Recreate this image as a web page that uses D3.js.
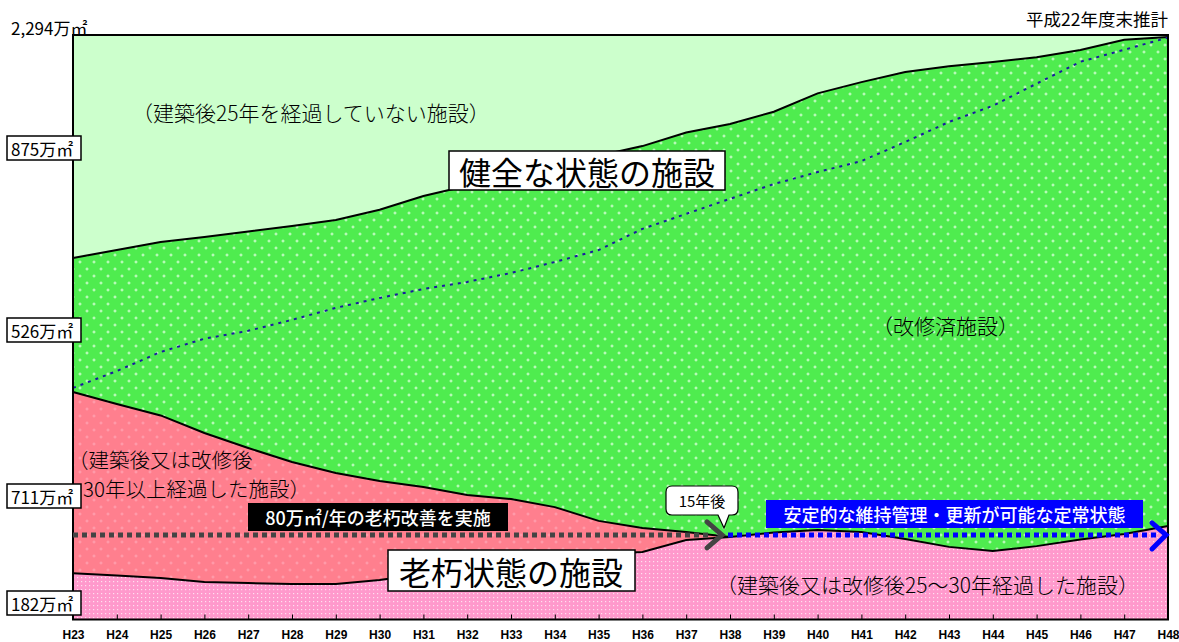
<!DOCTYPE html>
<html>
<head>
<meta charset="utf-8">
<script src="https://cdn.jsdelivr.net/npm/d3@7"></script>
<style>
body{margin:0;background:#fff;}
text{font-family:"Noto Sans CJK JP","Noto Sans",sans-serif;}
</style>
</head>
<body>
<script>
//years on the x axis
var years = ["H23","H24","H25","H26","H27","H28","H29","H30","H31","H32","H33","H34","H35",
             "H36","H37","H38","H39","H40","H41","H42","H43","H44","H45","H46","H47","H48"];

//floor area (万m2) per group
var age2530 = [182,173,163,147,143,139,139,155,179,202,222,241,257,265,312,324,341,351,343,316,285,269,288,314,336,367]; //建築後又は改修後25～30年
var age30 = [711,673,638,585,530,479,436,389,341,287,251,200,130,94,31,0,0,0,0,0,0,0,0,0,0,0]; //30年以上 (老朽)
var renovated = [526,604,681,769,850,926,993,1064,1142,1213,1268,1338,1433,1499,1568,1621,1652,1714,1766,1833,1886,1919,1919,1921,1939,1919]; //改修済
var under25 = [875,844,812,793,771,750,726,687,632,593,553,514,475,436,383,349,301,229,184,145,124,106,86,59,20,8]; //建築後25年未満

//dotted guide line
var guide = [909,975,1050,1102,1133,1176,1223,1262,1297,1325,1360,1403,1450,1533,1592,1651,1709,1756,1799,1874,1953,2016,2103,2189,2236,2284];

var total = 2294;
var steadyLevel = 332; //定常状態のライン
var startLabels = ["875万㎡","526万㎡","711万㎡","182万㎡"];

window.onload = function(){

    var w = 1179, h = 642;
    var pLeft = 73, pRight = 1168, pTop = 35, pBottom = 619.5;

    var svg = d3.select("body").append("svg")
        .attr("width", w)
        .attr("height", h);

    var x = d3.scalePoint().domain(years).range([pLeft, pRight]);
    var y = d3.scaleLinear().domain([0, total]).range([pBottom, pTop]);

    //patterns
    var defs = svg.append("defs");

    var pg = defs.append("pattern").attr("id","pGreen").attr("patternUnits","userSpaceOnUse")
        .attr("width",14).attr("height",14);
    pg.append("rect").attr("width",14).attr("height",14).attr("fill","#4fec4f");
    [[3,3],[10,10]].forEach(function(p){
        pg.append("path").attr("d","M"+(p[0]-1.5)+","+p[1]+"h3M"+p[0]+","+(p[1]-1.5)+"v3")
            .attr("stroke","#d8ffd8").attr("stroke-width",1);
    });

    var pr = defs.append("pattern").attr("id","pRed").attr("patternUnits","userSpaceOnUse")
        .attr("width",14).attr("height",14);
    pr.append("rect").attr("width",14).attr("height",14).attr("fill","#ff7f8e");
    [[3,3],[10,10]].forEach(function(p){
        pr.append("path").attr("d","M"+(p[0]-1.5)+","+p[1]+"h3M"+p[0]+","+(p[1]-1.5)+"v3")
            .attr("stroke","#ffa3b2").attr("stroke-width",1);
    });

    var pp = defs.append("pattern").attr("id","pPink").attr("patternUnits","userSpaceOnUse")
        .attr("width",4).attr("height",4);
    pp.append("rect").attr("width",4).attr("height",4).attr("fill","#ff99cc");
    pp.append("rect").attr("x",1).attr("y",1).attr("width",1.2).attr("height",1.2).attr("fill","#ffe0f0");

    //plot background
    svg.append("rect")
        .attr("x",pLeft).attr("y",pTop)
        .attr("width",pRight-pLeft).attr("height",pBottom-pTop)
        .attr("fill","#ccffcc");

    //stack
    var rows = years.map(function(d,i){
        return {year:d, a:age2530[i], b:age30[i], c:renovated[i], d:under25[i]};
    });
    var series = d3.stack().keys(["a","b","c","d"])(rows);
    var fills = ["url(#pPink)","url(#pRed)","url(#pGreen)","#ccffcc"];

    var area = d3.area()
        .x(function(d){ return x(d.data.year); })
        .y0(function(d){ return y(d[0]); })
        .y1(function(d){ return y(Math.min(d[1], total)); });

    svg.selectAll(".layer")
        .data(series)
        .enter()
        .append("path")
        .attr("class","layer")
        .attr("d", area)
        .attr("fill", function(d,i){ return fills[i]; });

    //boundary lines
    var edge = d3.line()
        .x(function(d){ return x(d.data.year); })
        .y(function(d){ return y(d[1]); });

    svg.append("path").attr("d", edge(series[0]))
        .attr("fill","none").attr("stroke","#000").attr("stroke-width",2);
    svg.append("path").attr("d", edge(series[1].filter(function(d,i){ return i <= 15; })))
        .attr("fill","none").attr("stroke","#000").attr("stroke-width",2);
    svg.append("path").attr("d", edge(series[2]))
        .attr("fill","none").attr("stroke","#000").attr("stroke-width",2);

    //dotted guide
    svg.append("path")
        .datum(guide)
        .attr("d", d3.line()
            .x(function(d,i){ return x(years[i]); })
            .y(function(d){ return y(d); }))
        .attr("fill","none")
        .attr("stroke","#1a1aa0")
        .attr("stroke-width",2)
        .attr("stroke-dasharray","3,5");

    //axis
    var xAxis = d3.axisBottom(x).tickSizeInner(-5).tickSizeOuter(0).tickPadding(11);
    var ax = svg.append("g").attr("transform","translate(0,"+pBottom+")").call(xAxis);
    ax.select(".domain").remove();
    ax.selectAll(".tick line").attr("stroke","#000").attr("stroke-width",1);
    ax.selectAll("text")
        .style("font-family","'Liberation Sans',Arial,sans-serif")
        .style("font-weight","bold")
        .style("font-size","12px")
        .attr("fill","#000");

    //frame
    svg.append("rect")
        .attr("x",pLeft).attr("y",pTop)
        .attr("width",pRight-pLeft).attr("height",pBottom-pTop)
        .attr("fill","none").attr("stroke","#000").attr("stroke-width",2);

    //text helpers
    function label(tx, ty, str, size, opts){
        opts = opts || {};
        return svg.append("text")
            .attr("x",tx).attr("y",ty)
            .attr("text-anchor", opts.anchor || "start")
            .attr("dominant-baseline","central")
            .attr("fill", opts.color || "#000")
            .style("font-size", size+"px")
            .style("font-weight", opts.weight || "normal")
            .text(str);
    }
    function box(bx, by, bw, bh, fill, stroke){
        svg.append("rect")
            .attr("x",bx).attr("y",by).attr("width",bw).attr("height",bh)
            .attr("fill",fill)
            .attr("stroke",stroke || "none")
            .attr("stroke-width",1.5);
    }

    //top labels
    label(11, 27, "2,294万㎡", 17);
    label(1168, 18, "平成22年度末推計", 17.5, {anchor:"end"});

    //starting values on the left
    var labelY = [148, 330, 496, 603];
    startLabels.forEach(function(s,i){
        box(7, labelY[i]-12, 74, 24, "#fff", "#000");
        label(11, labelY[i], s, 17);
    });

    //captions
    label(132, 112, "（建築後25年を経過していない施設）", 21, {weight:300});
    label(872, 325, "（改修済施設）", 21, {weight:300});
    label(68, 459, "（建築後又は改修後", 20.5, {weight:300});
    label(83, 488, "30年以上経過した施設）", 20.5, {weight:300});
    label(716, 584, "（建築後又は改修後25～30年経過した施設）", 21, {weight:300});

    //big labels
    box(449, 151, 276, 39, "#fff", "#000");
    label(587, 170.5, "健全な状態の施設", 32, {anchor:"middle"});
    box(388, 550, 247, 41, "#fff", "#000");
    label(511, 570.5, "老朽状態の施設", 32, {anchor:"middle"});

    //steady-state lines
    var sy = y(steadyLevel);
    svg.append("line")
        .attr("x1",pLeft).attr("x2",712).attr("y1",sy).attr("y2",sy)
        .attr("stroke","#444").attr("stroke-width",5).attr("stroke-dasharray","5,4");
    svg.append("path")
        .attr("d","M707,"+(sy-13)+"L722,"+sy+"L707,"+(sy+13))
        .attr("fill","none").attr("stroke","#444").attr("stroke-width",5).attr("stroke-linecap","round");
    svg.append("line")
        .attr("x1",728).attr("x2",1160).attr("y1",sy).attr("y2",sy)
        .attr("stroke","#0000ff").attr("stroke-width",5).attr("stroke-dasharray","5,4");
    svg.append("path")
        .attr("d","M1152,"+(sy-12)+"L1166,"+sy+"L1152,"+(sy+14))
        .attr("fill","none").attr("stroke","#0000ff").attr("stroke-width",5).attr("stroke-linecap","round");

    //black and blue notes
    box(248, 503, 260, 28, "#000");
    label(378, 517, "80万㎡/年の老朽改善を実施", 18, {anchor:"middle", color:"#fff", weight:500});
    box(766, 500, 377, 28, "#0000ff");
    label(954.5, 514, "安定的な維持管理・更新が可能な定常状態", 18, {anchor:"middle", color:"#fff", weight:500});

    //15年後 bubble
    svg.append("path")
        .attr("d","M672,486H732Q738,486 738,492V509Q738,515 732,515H729L724,528L718,515H672Q666,515 666,509V492Q666,486 672,486Z")
        .attr("fill","#fff").attr("stroke","#000").attr("stroke-width",1.2);
    label(702, 500.5, "15年後", 15, {anchor:"middle"});
};
</script>
</body>
</html>
